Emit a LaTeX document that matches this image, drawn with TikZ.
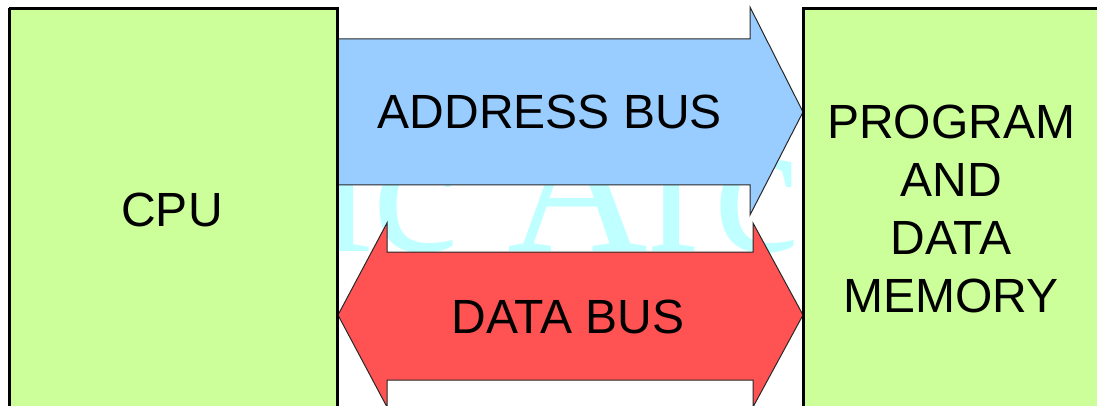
\documentclass[tikz,border=0pt]{standalone}
\usepackage{fontspec}
\setmainfont{Liberation Sans}
\newfontfamily\wmfont{Liberation Serif}
\usetikzlibrary{calc}
\definecolor{boxgreen}{RGB}{204,255,153}
\definecolor{addrblue}{RGB}{153,204,255}
\definecolor{datared}{RGB}{255,82,82}
\definecolor{wmcyan}{RGB}{192,255,255}
\definecolor{edgegray}{RGB}{40,40,40}
\tikzset{
  unitbox/.style={draw=black, line width=2pt, fill=boxgreen, inner sep=0pt, anchor=north west},
  buslabel/.style={font=\fontsize{48}{58}\selectfont, text=black, inner sep=0pt},
  busarrow/.style={draw=edgegray, line width=1pt, line join=miter},
  watermark/.style={font=\wmfont\fontsize{195}{195}\selectfont, text=wmcyan, inner sep=0pt}
}
\begin{document}
\begin{tikzpicture}[x=1pt, y=-1pt]
  \useasboundingbox (0,0) rectangle (1097,406);
  \clip (0,0) rectangle (1097,406);
  \fill[white] (0,0) rectangle (1097,406);

  % faint background lettering
  \node[watermark, anchor=base west] (wm) at (318,251) {ic Architecture};

  % the two units
  \node[unitbox, minimum width=327pt, minimum height=420pt] (cpu) at (9,8) {};
  \node[unitbox, minimum width=320pt, minimum height=420pt] (mem) at (803,8) {};

  % address bus: one-way block arrow from CPU to memory
  \coordinate (atail) at (cpu.east |- 0,112);
  \coordinate (atip)  at (mem.west |- 0,112);
  \draw[busarrow, fill=addrblue]
    ($(atail)+(0,-73)$) -- ($(atip)+(-53,-73)$) -- ($(atip)+(-53,-105)$) --
    (atip) --
    ($(atip)+(-53,103)$) -- ($(atip)+(-53,73)$) -- ($(atail)+(0,73)$) -- cycle;

  % data bus: two-way block arrow between CPU and memory
  \coordinate (dleft)  at (cpu.east |- 0,315);
  \coordinate (dright) at (mem.west |- 0,315);
  \draw[busarrow, fill=datared]
    (dleft) -- ($(dleft)+(49,-92)$) -- ($(dleft)+(49,-63)$) --
    ($(dright)+(-50,-63)$) -- ($(dright)+(-50,-92)$) -- (dright) --
    ($(dright)+(-50,92)$) -- ($(dright)+(-50,65)$) --
    ($(dleft)+(49,65)$) -- ($(dleft)+(49,92)$) -- cycle;

  % redraw unit borders above the arrow tips
  \draw[black, line width=2pt] (cpu.north west) -- (cpu.north east) -- (cpu.south east);
  \draw[black, line width=2pt] (cpu.north west) -- (cpu.south west);
  \draw[black, line width=2pt] (mem.south west) -- (mem.north west) -- (mem.north east);

  % labels
  \node[buslabel] (cpulabel) at (172,210) {CPU};
  \node[buslabel, align=center] (memlabel) at (951,209) {PROGRAM\\AND\\DATA\\MEMORY};
  \node[buslabel] (addrlabel) at (550,112) {ADDRESS BUS};
  \node[buslabel] (datalabel) at (568,317) {DATA BUS};
\end{tikzpicture}
\end{document}
